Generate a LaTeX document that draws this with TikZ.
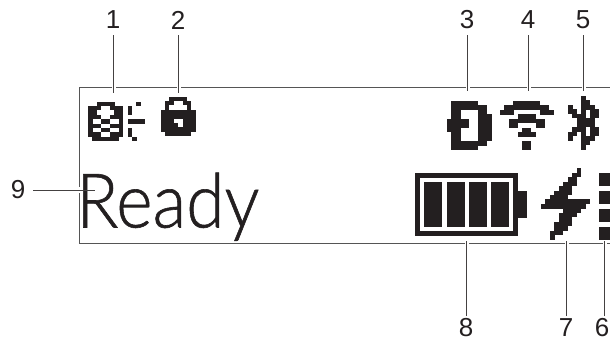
\documentclass[tikz,border=0pt]{standalone}
\usepackage{fontspec}
\setmainfont{Liberation Sans}
\newfontfamily\lcdfont[RawFeature={embolden=0.8}]{Lato Light}
\definecolor{ink}{HTML}{231F20}
\definecolor{rule}{HTML}{555555}
\newcount\pixcol
\def\pixrow#1{\ifx#1;\let\pixnext\relax\else
  \if#1x\fill[ink] ({\pixx+\the\pixcol*\pixs},{\pixy+\pixj*\pixs}) rectangle ++({\pixs+0.15},{\pixs+0.15});\fi
  \global\advance\pixcol by 1 \let\pixnext\pixrow\fi\pixnext}
\newcommand{\pixart}[4]{\def\pixx{#1}\def\pixy{#2}\def\pixs{#3}%
  \foreach \pixr [count=\pixc from 0] in {#4} {\global\pixcol=0 \edef\pixj{\pixc}\expandafter\pixrow\pixr;}}
\tikzset{
  num/.style={font=\fontsize{26}{26}\selectfont,text=ink,inner sep=0pt},
  frameline/.style={draw=rule,line width=1pt},
  leader/.style={draw=ink!85!white,line width=1pt},
  halo/.style={draw=white,line width=3.5pt},
  inkfill/.style={fill=ink,draw=none}
}
\begin{document}
\begin{tikzpicture}[x=1pt,y=-1pt]
\useasboundingbox (0,0) rectangle (610,343);
% LCD frame
\coordinate (ftr) at (610,87.5);
\coordinate (ftl) at (79,87.5);
\coordinate (fbl) at (79,243);
\coordinate (fbr) at (610,243);
\draw[frameline] (ftr) -- (ftl) -- (fbl) -- (fbr);
% status text
\node[anchor=base west,inner sep=0pt,font=\lcdfont\fontsize{74}{74}\selectfont,text=ink,xscale=0.94,yscale=1.02,transform shape] (ready) at (76,227.5) {Ready};
% icons
\pixart{88}{101.5}{4.4}{ooxxxxoooooxo,xxxooxxxoxooo,xxooooxxoxooo,xxxooxxxooooo,xooxxooxoxxxx,xxxooxxxooooo,xooxxooxoxooo,xxxooxxxoxooo,oxxxxxxoooxoo}
\pixart{160.5}{96.5}{4.4}{ooxxxxoo,oxxooxxo,oxooooxo,xxxxxxxx,xxxxxxxx,xxxooxxx,xxxxoxxx,xxxxxxxx,oxxxxxxo}
\pixart{447}{101}{4.45}{oxxxxxxooo,oxxxxxxxxo,oxxooooxxo,oxxooooxxx,xxxxxooxxx,xxxxxooxxx,xxxooooxxx,oxxooooxxx,oxxooooxxx,oxxxxxxxxo,oxxxxxxooo}
\pixart{500}{101}{4.45}{oooxxxxxxooo,oxxxxxxxxxxo,xxxooooooxxx,ooooxxxxoooo,ooxxxxxxxxoo,ooxxooooxxoo,oooooxxooooo,ooooxxxxoooo,oooooooooooo,oooooxxooooo,oooooxxooooo}
\pixart{568}{96}{4.45}{oooxooo,oooxxoo,xooxxxo,xxoxoxx,oxxxoxx,ooxxxxo,ooxxxxo,oxxxoxx,xxoxoxx,xooxxxo,oooxxoo,oooxooo}
\pixart{541}{168.3}{4.45}{ooooooooxoo,oooooooxxoo,ooooooxxooo,oooooxxxooo,ooooxxxoooo,oooxxxxoooo,ooxxxxooooo,oxxxxxxxxxx,xxxxxxxxxxo,oooooxxxxoo,ooooxxxxooo,ooooxxxoooo,oooxxxxoooo,oooxxxooooo,ooxxxoooooo,ooxoooooooo}
% battery
\draw[ink,line width=5pt] (417.5,175.2) rectangle (515.5,233.5);
\fill[inkfill] (424,182) rectangle (442,227);
\fill[inkfill] (447,182) rectangle (465,227);
\fill[inkfill] (469,182) rectangle (487,227);
\fill[inkfill] (491,182) rectangle (509,227);
\fill[inkfill] (518,190.7) rectangle (527,218);
% signal column
\fill[inkfill] (599,172.7) rectangle (610,185.7);
\fill[inkfill] (599,190.7) rectangle (610,203.7);
\fill[inkfill] (599,208.7) rectangle (610,221.7);
\fill[inkfill] (599,226.7) rectangle (610,239.7);
% labels
\node[num] (n1) at (113,20) {1};
\node[num] (n2) at (178,20) {2};
\node[num] (n3) at (467,20) {3};
\node[num] (n4) at (528,20) {4};
\node[num] (n5) at (583,20) {5};
\node[num] (n6) at (602,328) {6};
\node[num] (n7) at (566,328) {7};
\node[num] (n8) at (466,328) {8};
\node[num] (n9) at (18,190) {9};
% leader ends
\coordinate (e1) at (113,93);
\coordinate (e2) at (178,93);
\coordinate (e3) at (467,91);
\coordinate (e4) at (528,91);
\coordinate (e5) at (583,91);
\coordinate (e6) at (604,241);
\coordinate (e7) at (566,241);
\coordinate (e8) at (466,241);
\coordinate (e9) at (95,190);
\coordinate (s1) at (113,35);
\coordinate (s2) at (178,35);
\coordinate (s3) at (467,35);
\coordinate (s4) at (528,35);
\coordinate (s5) at (583,35);
\coordinate (s6) at (604,316);
\coordinate (s7) at (566,316);
\coordinate (s8) at (466,316);
\coordinate (s9) at (33,190);
% white breaks at crossings
\foreach \a/\b in {113/87.5,178/87.5,467/87.5,528/87.5,583/87.5,604/243,566/243,466/243}
  \draw[halo] (\a-1,\b) -- (\a+3,\b);
\draw[halo] (79,187) -- (79,193);
% leaders
\draw[leader] (s1) -- (e1);
\draw[leader] (s2) -- (e2);
\draw[leader] (s3) -- (e3);
\draw[leader] (s4) -- (e4);
\draw[leader] (s5) -- (e5);
\draw[leader] (s6) -- (e6);
\draw[leader] (s7) -- (e7);
\draw[leader] (s8) -- (e8);
\draw[leader] (s9) -- (e9);
\end{tikzpicture}
\end{document}
